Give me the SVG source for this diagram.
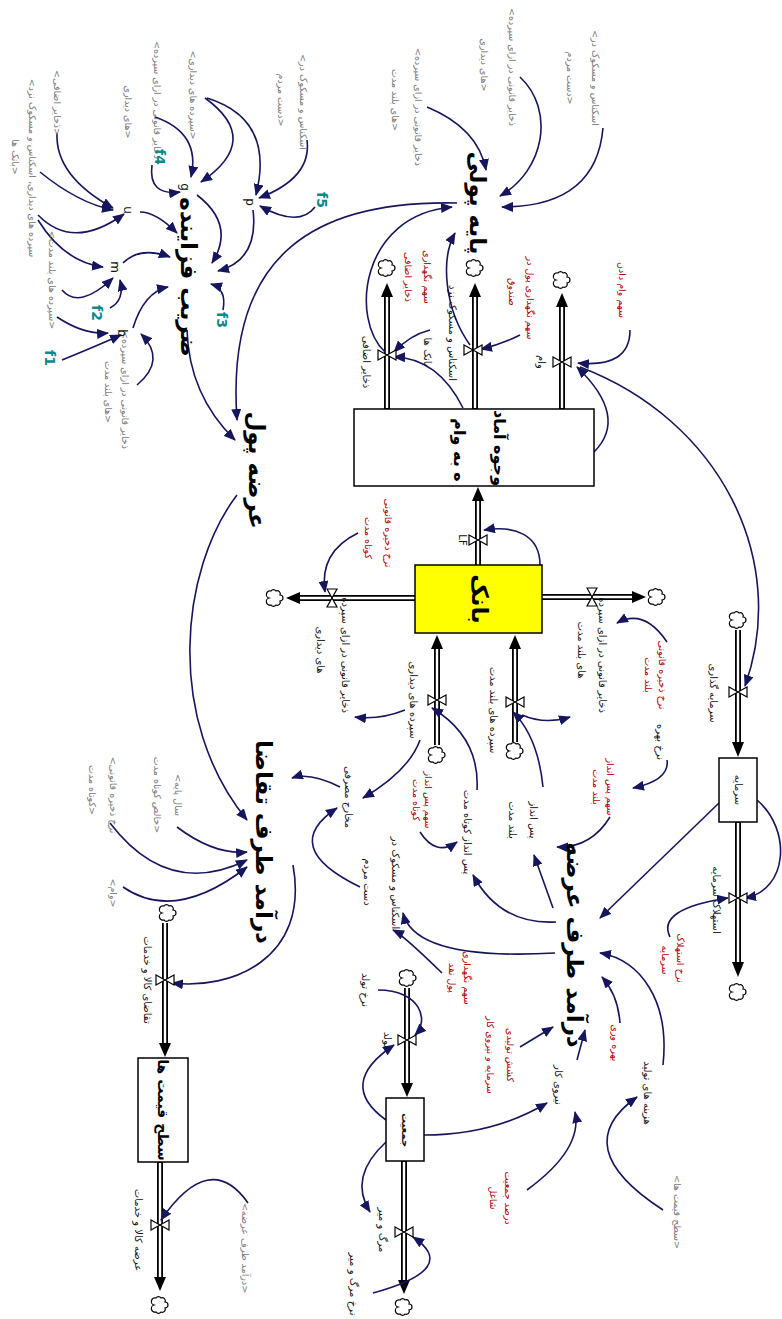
<svg xmlns="http://www.w3.org/2000/svg" width="782" height="1319" viewBox="0 0 782 1319">
<style>
text{font-family:"DejaVu Sans",sans-serif;text-anchor:middle;dominant-baseline:central}
.big{font-size:23px;font-weight:bold;fill:#000}
.stk{font-size:16px;font-weight:bold;fill:#000}
.lab{font-size:10px;fill:#111}
.red{font-size:9.5px;fill:#b00000}
.gry{font-size:9.5px;fill:#7a7a7a}
.tl{font-size:14px;font-weight:bold;fill:#0a8a8a}
.ltr{font-size:12px;fill:#111}
.lk{fill:none;stroke:#16165e;stroke-width:1.6;marker-end:url(#ah)}
.po{stroke:#000;stroke-width:6;fill:none}
.pi{stroke:#fff;stroke-width:2.4;fill:none}
.vl{fill:#fff;stroke:#000;stroke-width:1.2}
.cl{fill:#fff;stroke:#000;stroke-width:1.2}
.fa{fill:#000}
.box{fill:#fff;stroke:#000;stroke-width:1.5}
</style>
<defs>
<marker id="ah" viewBox="0 0 12 10" markerWidth="12" markerHeight="10" refX="11" refY="5" orient="auto" markerUnits="userSpaceOnUse"><path d="M0,0 L12,5 L0,10 z" fill="#16165e"/></marker>
<path id="cld" d="M-4,-7 a3,3 0 0 1 5,0 a3,3 0 0 1 4,4 a3,3 0 0 1 0,6 a3,3 0 0 1 -4,4 a3,3 0 0 1 -5,0 a3,3 0 0 1 -2,-7 a3,3 0 0 1 2,-7 z"/>
</defs>
<rect width="782" height="1319" fill="#fff"/>

<g id="pipes">
<line class="po" x1="387" y1="409" x2="387" y2="296"/><line class="pi" x1="387" y1="408" x2="387" y2="296"/><polygon class="fa" points="381,297 393,297 387,283"/><use href="#cld" x="387" y="268" class="cl"/>
<line class="po" x1="475" y1="409" x2="475" y2="296"/><line class="pi" x1="475" y1="408" x2="475" y2="296"/><polygon class="fa" points="469,297 481,297 475,283"/><use href="#cld" x="475" y="268" class="cl"/>
<line class="po" x1="562" y1="409" x2="562" y2="306"/><line class="pi" x1="562" y1="408" x2="562" y2="306"/><polygon class="fa" points="556,307 568,307 562,293"/><use href="#cld" x="562" y="280" class="cl"/>
<line class="po" x1="478" y1="566" x2="478" y2="500"/><line class="pi" x1="478" y1="566" x2="478" y2="500"/><polygon class="fa" points="472,501 484,501 478,487"/>
<line class="po" x1="415" y1="598" x2="299" y2="598"/><line class="pi" x1="416" y1="598" x2="299" y2="598"/><polygon class="fa" points="300,592 300,604 286,598"/><use href="#cld" x="275" y="598" class="cl"/>
<line class="po" x1="542" y1="597" x2="633" y2="597"/><line class="pi" x1="541" y1="597" x2="633" y2="597"/><polygon class="fa" points="632,591 632,603 646,597"/><use href="#cld" x="657" y="597" class="cl"/>
<line class="po" x1="437" y1="745" x2="437" y2="648"/><line class="pi" x1="437" y1="745" x2="437" y2="648"/><polygon class="fa" points="431,649 443,649 437,635"/><use href="#cld" x="437" y="755" class="cl"/>
<line class="po" x1="515" y1="742" x2="515" y2="648"/><line class="pi" x1="515" y1="742" x2="515" y2="648"/><polygon class="fa" points="509,649 521,649 515,635"/><use href="#cld" x="515" y="751" class="cl"/>
<line class="po" x1="738" y1="630" x2="738" y2="742"/><line class="pi" x1="738" y1="630" x2="738" y2="742"/><polygon class="fa" points="732,742 744,742 738,757"/><use href="#cld" x="738" y="620" class="cl"/>
<line class="po" x1="738" y1="822" x2="738" y2="962"/><line class="pi" x1="738" y1="823" x2="738" y2="962"/><polygon class="fa" points="732,962 744,962 738,977"/><use href="#cld" x="738" y="992" class="cl"/>
<line class="po" x1="407" y1="988" x2="407" y2="1083"/><line class="pi" x1="407" y1="988" x2="407" y2="1083"/><polygon class="fa" points="401,1083 413,1083 407,1097"/><use href="#cld" x="408" y="978" class="cl"/>
<line class="po" x1="404" y1="1161" x2="404" y2="1280"/><line class="pi" x1="404" y1="1162" x2="404" y2="1280"/><polygon class="fa" points="398,1280 410,1280 404,1294"/><use href="#cld" x="404" y="1307" class="cl"/>
<line class="po" x1="165" y1="923" x2="165" y2="1043"/><line class="pi" x1="165" y1="923" x2="165" y2="1043"/><polygon class="fa" points="159,1043 171,1043 165,1057"/><use href="#cld" x="168" y="913" class="cl"/>
<line class="po" x1="160" y1="1162" x2="160" y2="1277"/><line class="pi" x1="160" y1="1163" x2="160" y2="1277"/><polygon class="fa" points="154,1277 166,1277 160,1291"/><use href="#cld" x="160" y="1305" class="cl"/>
</g>

<g id="connectors">
<path class="lk" d="M205,98 Q263,140 201,182"/>
<path class="lk" d="M207,98 Q275,119 256,195"/>
<path class="lk" d="M155,117 Q201,133 191,177"/>
<path class="lk" d="M152,165 Q148,196 180,192"/>
<path class="lk" d="M197,195 Q236,225 212,263"/>
<path class="lk" d="M253,210 Q259,260 218,271"/>
<path class="lk" d="M307,140 Q312,178 259,198"/>
<path class="lk" d="M315,207 Q299,228 260,206"/>
<path class="lk" d="M57,133 Q55,176 113,208"/>
<path class="lk" d="M40,172 Q78,203 113,210"/>
<path class="lk" d="M38,215 Q73,251 124,214"/>
<path class="lk" d="M38,220 Q64,262 103,267"/>
<path class="lk" d="M140,212 Q156,212 177,233"/>
<path class="lk" d="M123,263 Q140,246 170,257"/>
<path class="lk" d="M62,290 Q79,310 113,278"/>
<path class="lk" d="M57,317 Q84,335 108,333"/>
<path class="lk" d="M110,308 Q125,300 120,280"/>
<path class="lk" d="M133,328 Q144,292 168,287"/>
<path class="lk" d="M223,310 Q227,289 211,284"/>
<path class="lk" d="M62,360 Q94,347 121,335"/>
<path class="lk" d="M137,385 Q167,360 141,334"/>
<path class="lk" d="M187,330 Q189,395 235,440"/>
<path class="lk" d="M457,203 C320,200 225,250 237,420"/>
<path class="lk" d="M385,352 C350,320 360,215 452,207"/>
<path class="lk" d="M470,345 C445,310 440,260 455,233"/>
<path class="lk" d="M427,107 Q478,128 486,170"/>
<path class="lk" d="M520,77 C555,110 545,170 500,196"/>
<path class="lk" d="M603,128 C598,185 560,207 502,207"/>
<path class="lk" d="M594,452 Q629,417 577,367"/>
<path class="lk" d="M630,330 Q630,368 578,363"/>
<path class="lk" d="M580,367 C720,420 790,560 745,686"/>
<path class="lk" d="M757,800 C792,830 788,890 745,898"/>
<path class="lk" d="M670,937 Q656,909 728,898"/>
<path class="lk" d="M719,803 Q660,860 600,918"/>
<path class="lk" d="M553,908 L534,855"/>
<path class="lk" d="M543,787 Q538,737 513,712"/>
<path class="lk" d="M667,760 Q670,780 633,788"/>
<path class="lk" d="M610,817 Q591,848 557,847"/>
<path class="lk" d="M522,715 Q545,725 570,717"/>
<path class="lk" d="M667,642 Q644,608 617,623"/>
<path class="lk" d="M358,533 Q319,552 325,592"/>
<path class="lk" d="M540,565 C540,535 515,525 484,530"/>
<path class="lk" d="M463,408 Q438,358 394,357"/>
<path class="lk" d="M430,330 Q410,335 394,352"/>
<path class="lk" d="M520,335 Q500,345 481,349"/>
<path class="lk" d="M405,710 Q380,720 355,717"/>
<path class="lk" d="M420,740 Q409,771 363,798"/>
<path class="lk" d="M477,790 Q480,737 432,708"/>
<path class="lk" d="M420,832 Q436,857 457,842"/>
<path class="lk" d="M556,922 Q500,925 473,875"/>
<path class="lk" d="M555,953 Q415,961 403,913"/>
<path class="lk" d="M442,973 Q403,935 393,930"/>
<path class="lk" d="M360,887 Q278,847 337,808"/>
<path class="lk" d="M340,787 Q310,772 292,778"/>
<path class="lk" d="M237,495 C180,570 165,720 247,820"/>
<path class="lk" d="M293,865 C310,960 230,990 172,983"/>
<path class="lk" d="M177,827 Q214,855 247,852"/>
<path class="lk" d="M110,823 Q168,899 247,860"/>
<path class="lk" d="M123,887 Q175,923 247,867"/>
<path class="lk" d="M248,1203 Q210,1149 161,1220"/>
<path class="lk" d="M386,1120 Q336,1084 394,1045"/>
<path class="lk" d="M378,990 C420,990 430,1020 415,1035"/>
<path class="lk" d="M386,1142 Q348,1177 370,1212"/>
<path class="lk" d="M373,1293 Q461,1269 413,1237"/>
<path class="lk" d="M424,1135 C470,1135 510,1125 547,1103"/>
<path class="lk" d="M527,1190 Q583,1149 575,1112"/>
<path class="lk" d="M577,1060 L585,1030"/>
<path class="lk" d="M520,1047 L553,1027"/>
<path class="lk" d="M620,1023 Q618,995 602,977"/>
<path class="lk" d="M663,1065 C670,1000 640,960 600,953"/>
<path class="lk" d="M663,1210 Q566,1147 637,1097"/>
</g>

<g id="valves">
<polygon class="vl" points="378,350 396,360 396,350 378,360"/>
<polygon class="vl" points="464,345 482,355 482,345 464,355"/>
<polygon class="vl" points="553,357 571,367 571,357 553,367"/>
<polygon class="vl" points="469,535 487,545 487,535 469,545"/>
<polygon class="vl" points="327,589 337,607 327,607 337,589"/>
<polygon class="vl" points="587,588 597,606 587,606 597,588"/>
<polygon class="vl" points="428,695 446,705 446,695 428,705"/>
<polygon class="vl" points="506,697 524,707 524,697 506,707"/>
<polygon class="vl" points="729,687 747,697 747,687 729,697"/>
<polygon class="vl" points="729,893 747,903 747,893 729,903"/>
<polygon class="vl" points="398,1035 416,1045 416,1035 398,1045"/>
<polygon class="vl" points="395,1227 413,1237 413,1227 395,1237"/>
<polygon class="vl" points="156,975 174,985 174,975 156,985"/>
<polygon class="vl" points="151,1220 169,1230 169,1220 151,1230"/>
</g>

<g id="payeh-pouli"><text class="big" transform="translate(478,203) rotate(90)">پایه پولی</text></g>
<g id="zarib-fazayandeh"><text class="big" transform="translate(189,277) rotate(90)">ضریب فزاینده</text></g>
<g id="arzeh-pool"><text class="big" transform="translate(257,470) rotate(90)">عرضه پول</text></g>
<g id="daramad-taghaza"><text class="big" transform="translate(264,842) rotate(90)">درآمد طرف تقاضا</text></g>
<g id="daramad-arzeh"><text class="big" transform="translate(575,945) rotate(90)">درآمد طرف عرضه</text></g>

<g id="vojuh"><rect class="box" x="354" y="409" width="240" height="77"/>
<text class="stk" transform="translate(499,448) rotate(90)">وجوه آماد</text>
<text class="stk" transform="translate(459,450) rotate(90)">ه به وام</text></g>
<g id="bank"><rect x="415" y="565" width="127" height="68" fill="#ffff00" stroke="#000" stroke-width="1.5"/>
<text class="big" transform="translate(480,599) rotate(90)">بانک</text></g>
<g id="sarmayeh"><rect class="box" x="719" y="758" width="38" height="64"/><text class="lab" transform="translate(738,790) rotate(90)">سرمایه</text></g>
<g id="jamiyat"><rect class="box" x="386" y="1098" width="38" height="63"/><text class="lab" font-weight="bold" transform="translate(405,1130) rotate(90)">جمعیت</text></g>
<g id="sath-gheymat"><rect class="box" x="138" y="1058" width="50" height="104"/><text class="stk" font-size="14" style="font-size:14px" transform="translate(163,1110) rotate(90)">سطح قیمت ها</text></g>

<g id="flow-labels">
<text class="lab" transform="translate(366,362) rotate(90)">ذخایر اضافی</text>
<text class="lab" transform="translate(452,333) rotate(90)">اسکناس و مسکوک نزد</text>
<text class="lab" transform="translate(427,352) rotate(90)">بانک ها</text>
<text class="lab" transform="translate(541,362) rotate(90)">وام</text>
<text class="lab" transform="translate(462,540) rotate(90)">LF</text>
<text class="lab" transform="translate(345,655) rotate(90)">ذخایر قانونی در ازای سپرده</text>
<text class="lab" transform="translate(320,650) rotate(90)">های دیداری</text>
<text class="lab" transform="translate(602,655) rotate(90)">ذخایر قانونی در ازای سپرده</text>
<text class="lab" transform="translate(581,650) rotate(90)">های بلند مدت</text>
<text class="lab" transform="translate(413,700) rotate(90)">سپرده های دیداری</text>
<text class="lab" transform="translate(493,710) rotate(90)">سپرده های بلند مدت</text>
<text class="lab" transform="translate(713,693) rotate(90)">سرمایه گذاری</text>
<text class="lab" transform="translate(716,900) rotate(90)">استهلاک سرمایه</text>
<text class="lab" transform="translate(387,1040) rotate(90)">تولد</text>
<text class="lab" transform="translate(382,1230) rotate(90)">مرگ و میر</text>
<text class="lab" transform="translate(147,980) rotate(90)">تقاضای کالا و خدمات</text>
<text class="lab" transform="translate(138,1230) rotate(90)">عرضه کالا و خدمات</text>
</g>

<g id="aux">
<text class="lab" transform="translate(348,797) rotate(90)">مخارج مصرفی</text>
<text class="lab" transform="translate(395,883) rotate(90)">اسکناس و مسکوک در</text>
<text class="lab" transform="translate(367,882) rotate(90)">دست مردم</text>
<text class="lab" transform="translate(467,832) rotate(90)">پس انداز کوتاه مدت</text>
<text class="lab" transform="translate(533,820) rotate(90)">پس انداز</text>
<text class="lab" transform="translate(512,820) rotate(90)">بلند مدت</text>
<text class="lab" transform="translate(660,742) rotate(90)">نرخ بهره</text>
<text class="lab" transform="translate(558,1085) rotate(90)">نیروی کار</text>
<text class="lab" transform="translate(647,1093) rotate(90)">هزینه های تولید</text>
<text class="lab" transform="translate(365,990) rotate(90)">نرخ تولد</text>
<text class="lab" transform="translate(353,1284) rotate(90)">نرخ مرگ و میر</text>
</g>

<g id="params">
<text class="red" transform="translate(427,277) rotate(90)">سهم نگهداری</text>
<text class="red" transform="translate(408,277) rotate(90)">ذخایر اضافی</text>
<text class="red" transform="translate(530,298) rotate(90)">سهم نگهداری پول در</text>
<text class="red" transform="translate(512,292) rotate(90)">صندوق</text>
<text class="red" transform="translate(622,290) rotate(90)">سهم وام دادن</text>
<text class="red" transform="translate(388,533) rotate(90)">نرخ ذخیره قانونی</text>
<text class="red" transform="translate(368,538) rotate(90)">کوتاه مدت</text>
<text class="red" transform="translate(662,675) rotate(90)">نرخ ذخیره قانونی</text>
<text class="red" transform="translate(648,675) rotate(90)">بلند مدت</text>
<text class="red" transform="translate(428,800) rotate(90)">سهم پس انداز</text>
<text class="red" transform="translate(416,800) rotate(90)">کوتاه مدت</text>
<text class="red" transform="translate(610,787) rotate(90)">سهم پس انداز</text>
<text class="red" transform="translate(596,787) rotate(90)">بلند مدت</text>
<text class="red" transform="translate(680,958) rotate(90)">نرخ استهلاک</text>
<text class="red" transform="translate(665,960) rotate(90)">سرمایه</text>
<text class="red" transform="translate(510,1055) rotate(90)">کشش تولیدی</text>
<text class="red" transform="translate(490,1055) rotate(90)">سرمایه و نیروی کار</text>
<text class="red" transform="translate(508,1198) rotate(90)">درصد جمعیت</text>
<text class="red" transform="translate(493,1198) rotate(90)">شاغل</text>
<text class="red" transform="translate(615,1043) rotate(90)">بهره وری</text>
<text class="red" transform="translate(467,978) rotate(90)">سهم نگهداری</text>
<text class="red" transform="translate(452,978) rotate(90)">پول نقد</text>
</g>

<g id="shadows">
<text class="gry" transform="translate(595,78) rotate(90)">&lt;اسکناس و مسکوک در</text>
<text class="gry" transform="translate(570,78) rotate(90)">دست مردم&gt;</text>
<text class="gry" transform="translate(303,102) rotate(90)">&lt;اسکناس و مسکوک در</text>
<text class="gry" transform="translate(281,100) rotate(90)">دست مردم&gt;</text>
<text class="gry" transform="translate(418,107) rotate(90)">&lt;ذخایر قانونی در ازای سپرده</text>
<text class="gry" transform="translate(395,100) rotate(90)">های بلند مدت&gt;</text>
<text class="gry" transform="translate(512,67) rotate(90)">&lt;ذخایر قانونی در ازای سپرده</text>
<text class="gry" transform="translate(484,65) rotate(90)">های دیداری&gt;</text>
<text class="gry" transform="translate(193,95) rotate(90)">&lt;سپرده های دیداری&gt;</text>
<text class="gry" transform="translate(157,100) rotate(90)">&lt;ذخایر قانونی در ازای سپرده</text>
<text class="gry" transform="translate(128,112) rotate(90)">های دیداری&gt;</text>
<text class="gry" transform="translate(57,103) rotate(90)">&lt;ذخایر اضافی&gt;</text>
<text class="gry" transform="translate(32,168) rotate(90)">&lt;سپرده های دیداری، اسکناس و مسکوک نزد</text>
<text class="gry" transform="translate(15,157) rotate(90)">بانک ها&gt;</text>
<text class="gry" transform="translate(52,280) rotate(90)">&lt;سپرده های بلند مدت&gt;</text>
<text class="gry" transform="translate(125,390) rotate(90)">&lt;ذخایر قانونی در ازای سپرده</text>
<text class="gry" transform="translate(108,392) rotate(90)">های بلند مدت&gt;</text>
<text class="gry" transform="translate(178,795) rotate(90)">&lt;سال پایه</text>
<text class="gry" transform="translate(157,795) rotate(90)">خالص کوتاه مدت&gt;</text>
<text class="gry" transform="translate(113,795) rotate(90)">&lt;نرخ ذخیره قانونی</text>
<text class="gry" transform="translate(92,790) rotate(90)">کوتاه مدت&gt;</text>
<text class="gry" transform="translate(113,893) rotate(90)">&lt;وام&gt;</text>
<text class="gry" transform="translate(245,1248) rotate(90)">&lt;درآمد طرف عرضه&gt;</text>
<text class="gry" transform="translate(677,1212) rotate(90)">&lt;سطح قیمت ها&gt;</text>
</g>

<g id="multiplier-parts">
<text class="ltr" transform="translate(185,187) rotate(90)">g</text>
<text class="ltr" transform="translate(250,202) rotate(90)">p</text>
<text class="ltr" transform="translate(128,210) rotate(90)">u</text>
<text class="ltr" transform="translate(115,267) rotate(90)">m</text>
<text class="ltr" transform="translate(122,333) rotate(90)">b</text>
<text class="tl" transform="translate(50,358) rotate(90)">f1</text>
<text class="tl" transform="translate(97,313) rotate(90)">f2</text>
<text class="tl" transform="translate(222,320) rotate(90)">f3</text>
<text class="tl" transform="translate(160,157) rotate(90)">f4</text>
<text class="tl" transform="translate(322,200) rotate(90)">f5</text>
</g>
</svg>
